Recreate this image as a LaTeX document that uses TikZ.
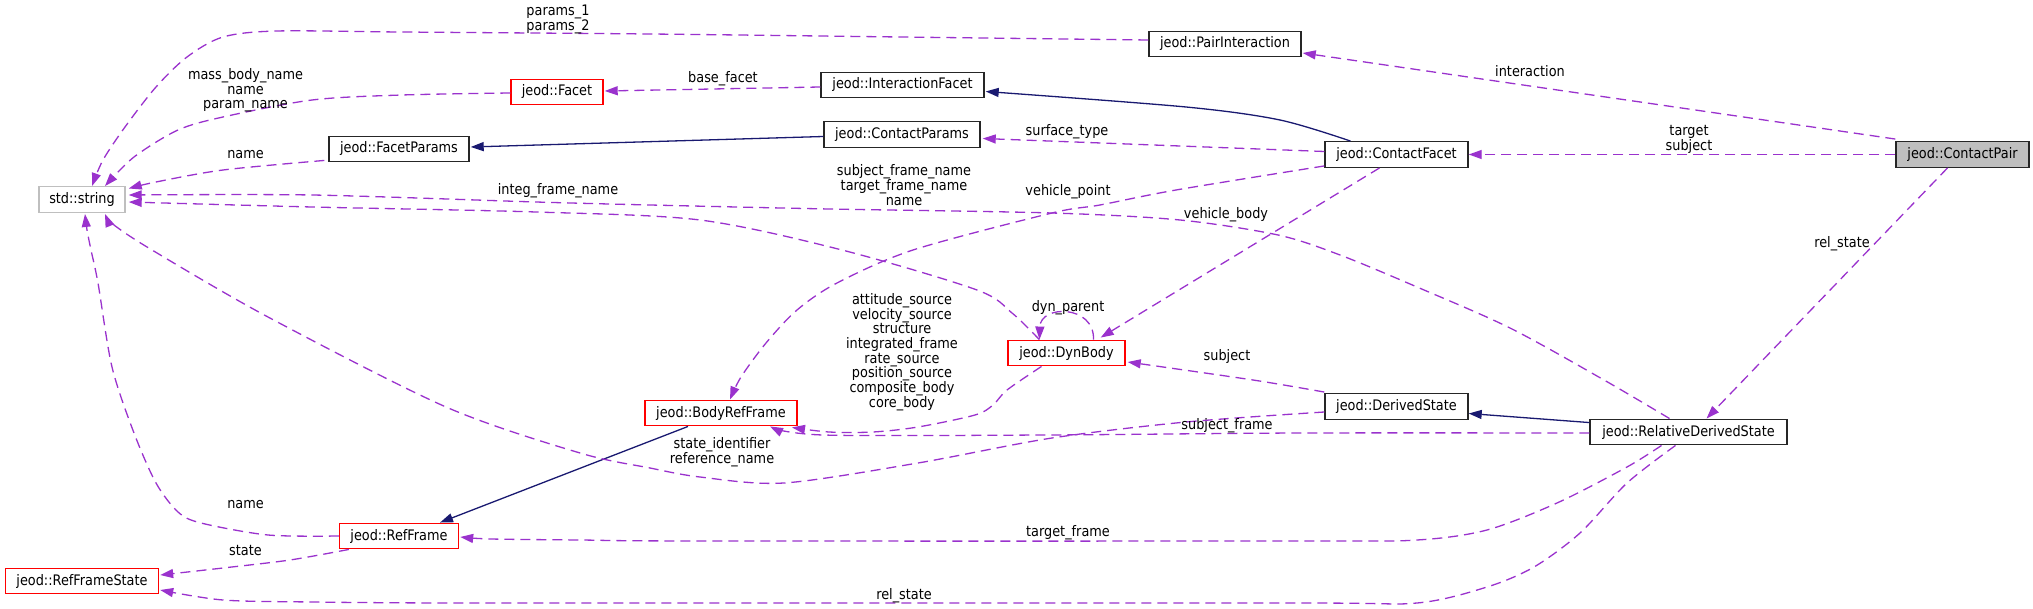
\documentclass[tikz,border=0pt]{standalone}
\usepackage{fontspec}
\setmainfont{DejaVu Sans}[FakeStretch=0.887]
\usetikzlibrary{arrows.meta,calc}
\definecolor{edgep}{RGB}{154,50,205}
\definecolor{navyb}{RGB}{25,25,112}
\definecolor{boxg}{RGB}{191,191,191}
\begin{document}
\begin{tikzpicture}[x=1pt,y=-1pt,
  every node/.style={font=\fontsize{14.5}{14.7}\selectfont, inner sep=0pt},
  cls/.style={draw=black!85, fill=white, line width=1.4pt, minimum height=25.5pt},
  redcls/.style={cls, draw=red},
  graycls/.style={cls, draw=boxg},
  dep/.style={draw=edgep, line width=1.3pt, dash pattern=on 10pt off 6pt, -{Triangle[length=13pt,width=9pt]}},
  inh/.style={draw=navyb, line width=1.3pt, -{Triangle[length=13pt,width=9pt]}},
  lbl/.style={align=center}]
\useasboundingbox (0,0) rectangle (2033,609);

% classes
\node[graycls, minimum width=86pt] (S) at (82,199.5) {std::string};
\node[cls, minimum width=152pt] (PI) at (1225,44) {jeod::PairInteraction};
\node[redcls, minimum width=92pt] (F) at (557,92) {jeod::Facet};
\node[cls, minimum width=163pt] (IF) at (902.5,85) {jeod::InteractionFacet};
\node[cls, minimum width=140pt] (FP) at (399,149) {jeod::FacetParams};
\node[cls, minimum width=156pt] (CPa) at (902,134.5) {jeod::ContactParams};
\node[cls, minimum width=143pt] (CF) at (1396.5,154.5) {jeod::ContactFacet};
\node[cls, fill=boxg, minimum width=133pt] (CP) at (1962.5,154.5) {jeod::ContactPair};
\node[redcls, minimum width=152pt] (BRF) at (721,413) {jeod::BodyRefFrame};
\node[redcls, minimum width=117pt] (DB) at (1066.5,353) {jeod::DynBody};
\node[cls, minimum width=143pt] (DS) at (1396.5,406.5) {jeod::DerivedState};
\node[cls, minimum width=197pt] (RDS) at (1688.5,432) {jeod::RelativeDerivedState};
\node[redcls, minimum width=119pt] (RF) at (399,536) {jeod::RefFrame};
\node[redcls, minimum width=153pt] (RFS) at (82,581) {jeod::RefFrameState};

% inheritance
\draw[inh] plot[smooth, tension=0.5] coordinates {($(CF.north)+(-46,0)$) (1280,120) (1186,107) ($(IF.east)+(1,6.5)$)};
\draw[inh] ($(CPa.west)+(0,2)$) -- ($(FP.east)+(1,-2)$);
\draw[inh] ($(BRF.south)+(-33,0)$) -- ($(RF.north)+(41,0)$);
\draw[inh] ($(RDS.north west)+(0,4)$) -- ($(DS.east)+(0,7)$);

% usage
\draw[dep] plot[smooth, tension=0.5] coordinates {($(PI.west)+(0,-4)$) (900,37) (650,34) (400,32) (277,31) (223,37) (187,57) (156,87) (125,127) (103,160) ($(S.north)+(10,0)$)};
\draw[dep] plot[smooth, tension=0.5] coordinates {($(F.west)+(0,1)$) (402,95) (312,100) (223,117) (178,130) (134,157) ($(S.north)+(23,0)$)};
\draw[dep] plot[smooth, tension=0.5] coordinates {($(FP.south west)+(-4,-2)$) (223,170) (156,182) ($(S.east)+(3,-11)$)};
\draw[dep] plot[smooth, tension=0.5] coordinates {($(DB.north west)+(32,0)$) (1012,313) (977,290) (842,250) (700,220) (536,212) (312,207) ($(S.east)+(3,2.5)$)};
\draw[dep] plot[smooth, tension=0.5] coordinates {($(RDS.north)+(-19,0)$) (1604,380) (1510,328) (1417,287) (1340,255) (1278,235) (1180,220) (1052,213) (829,209) (650,205) (536,202) (312,195) ($(S.east)+(3,-4.5)$)};
\draw[dep] plot[smooth, tension=0.5] coordinates {($(CF.south west)+(0,-2)$) (1176,190) (1100,205) (1052,213) (913,250) (837,283) (797,310) (766,343) (741,377) ($(BRF.north)+(9,0)$)};
\draw[dep] ($(CF.south)+(-17,0)$) -- ($(DB.north east)+(-25,-2)$);
\draw[dep] ($(DB.north)+(27,0)$) .. controls ($(DB.north)+(28,-35)$) and ($(DB.north)+(-26,-35)$) .. ($(DB.north)+(-27,0)$);
\draw[dep] plot[smooth, tension=0.5] coordinates {($(DS.north west)+(0,-1)$) (1253,380) ($(DB.east)+(2,9)$)};
\draw[dep] plot[smooth, tension=0.5] coordinates {($(DB.south)+(-25,0)$) (1007,390) (993,405) (975,415) (918,427) (873,432) (829,432) ($(BRF.south)+(71,1)$)};
\draw[dep] plot[smooth, tension=0.5] coordinates {($(RDS.west)+(0,1)$) (1300,433) (1046,435) (823,435) ($(BRF.south)+(49,0)$)};
\draw[dep] plot[smooth, tension=0.5] coordinates {($(DS.west)+(0,5.5)$) (1186,422) (1052,438) (918,463) (784,483) (700,477) (650,468) (580,453) (446,407) (268,317) (152,250) (114,225) ($(S.south)+(23,1)$)};
\draw[dep] plot[smooth, tension=0.5] coordinates {(RF.west) (268,535) (201,523) (178,512) (156,483) (134,433) (112,367) (98,283) (91,250) (87,230) ($(S.south)+(3,1)$)};
\draw[dep] plot[smooth, tension=0.5] coordinates {($(RF.south west)+(10,0)$) (290,560) (223,568) ($(RFS.east)+(1,-6)$)};
\draw[dep] plot[smooth, tension=0.5] coordinates {($(RDS.south)+(-13,0)$) (1627,483) (1580,533) (1534,567) (1487,587) (1417,603) (1300,603) (700,603) (446,603) (312,602) (223,600) ($(RFS.east)+(1,9)$)};
\draw[dep] plot[smooth, tension=0.5] coordinates {($(RDS.south)+(-27,0)$) (1627,467) (1557,503) (1487,530) (1417,540) (1300,541) (700,541) (580,540) (491,539) ($(RF.east)+(1,1)$)};
\draw[dep] ($(CP.north west)+(0,-2)$) -- ($(PI.east)+(1,9)$);
\draw[dep] (CP.west) -- (CF.east);
\draw[dep] ($(CP.south)+(-15,0)$) -- ($(RDS.north)+(18,0)$);
\draw[dep] ($(CF.west)+(0,-3)$) -- ($(CPa.east)+(2,4)$);
\draw[dep] ($(IF.west)+(0,2)$) -- ($(F.east)+(1,-1)$);

% labels
\node[lbl] (l1) at (558,19.5) {params\_1\\params\_2};
\node[lbl] (l2) at (245.5,90.5) {mass\_body\_name\\name\\param\_name};
\node[lbl] (l3) at (245.5,155) {name};
\node[lbl] (l4) at (723,79) {base\_facet};
\node[lbl] (l5) at (558,191) {integ\_frame\_name};
\node[lbl] (l6) at (904,185) {subject\_frame\_name\\target\_frame\_name\\name};
\node[lbl] (l7) at (1068,192) {vehicle\_point};
\node[lbl] (l8) at (1067,132) {surface\_type};
\node[lbl] (l9) at (1530,71) {interaction};
\node[lbl] (l10) at (1689,139.5) {target\\subject};
\node[lbl] (l11) at (1842,244) {rel\_state};
\node[lbl] (l12) at (1226,215) {vehicle\_body};
\node[lbl] (l13) at (1068,308) {dyn\_parent};
\node[lbl] (l14) at (902,352) {attitude\_source\\velocity\_source\\structure\\integrated\_frame\\rate\_source\\position\_source\\composite\_body\\core\_body};
\node[lbl] (l15) at (1227,356) {subject};
\node[lbl] (l16) at (1227,426) {subject\_frame};
\node[lbl] (l17) at (722,452) {state\_identifier\\reference\_name};
\node[lbl] (l18) at (245.5,505) {name};
\node[lbl] (l19) at (245.5,551) {state};
\node[lbl] (l20) at (1068,533) {target\_frame};
\node[lbl] (l21) at (904,596) {rel\_state};
\end{tikzpicture}
\end{document}
